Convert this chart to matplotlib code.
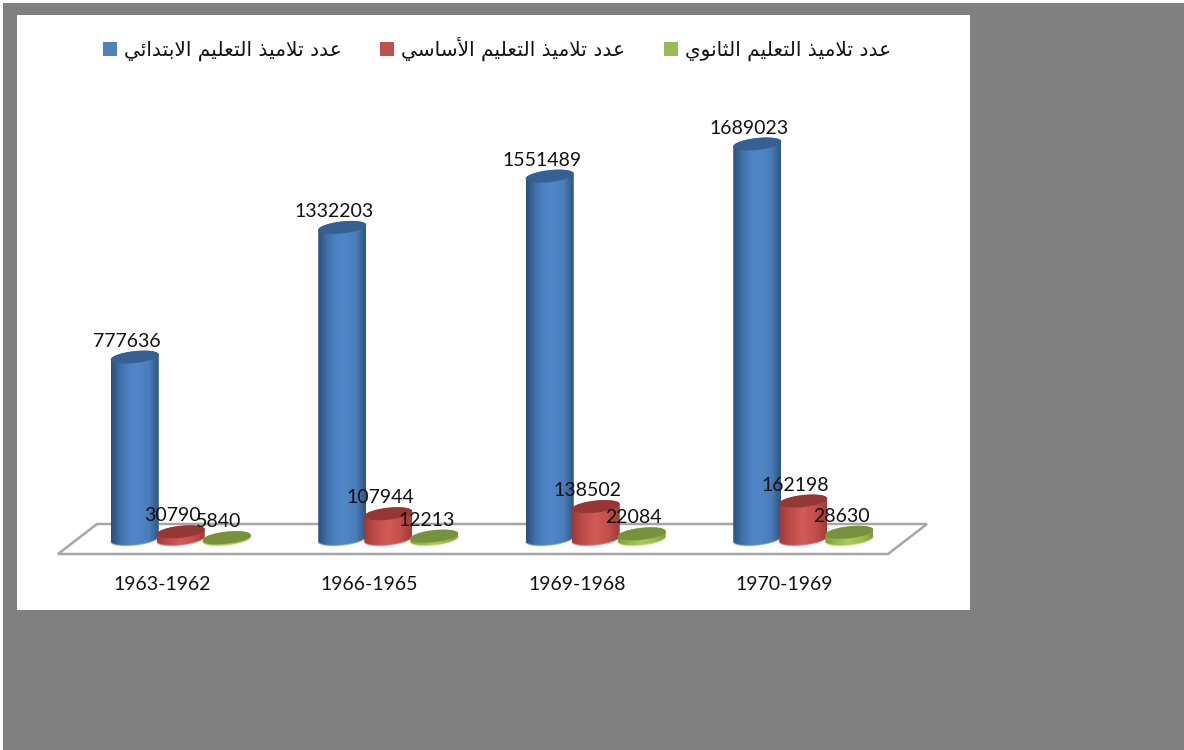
import numpy as np
import matplotlib
matplotlib.use("Agg")
import matplotlib.pyplot as plt
from matplotlib.colors import LinearSegmentedColormap
from matplotlib.patches import Polygon, Rectangle, Patch

categories = ["1963-1962", "1966-1965", "1969-1968", "1970-1969"]
primary = [777636, 1332203, 1551489, 1689023]
basic = [30790, 107944, 138502, 162198]
secondary = [5840, 12213, 22084, 28630]
series_names = ["عدد تلاميذ التعليم الابتدائي", "عدد تلاميذ التعليم الأساسي", "عدد تلاميذ التعليم الثانوي"]

W, H = 1184, 750
FORMS = {"ع": (0xFEC9, 4), "د": (0xFEA9, 2), "ت": (0xFE95, 4), "ل": (0xFEDD, 4), "ا": (0xFE8D, 2),
         "م": (0xFEE1, 4), "ي": (0xFEF1, 4), "ذ": (0xFEAB, 2), "ئ": (0xFE89, 4), "ن": (0xFEE5, 4),
         "ب": (0xFE8F, 4), "س": (0xFEB1, 4), "ث": (0xFE99, 4), "و": (0xFEED, 2), "أ": (0xFE83, 2)}
LIGS = {"ا": 0xFEFB, "أ": 0xFEF7}


def shape(text):
    # matplotlib has no Arabic shaping: pick presentation forms, then lay out right to left
    out = []
    for word in text.split(" "):
        glyphs = []
        i = 0
        joined = False
        while i < len(word):
            c = word[i]
            nxt = word[i + 1] if i + 1 < len(word) else None
            if c == "ل" and nxt in LIGS:
                glyphs.append(chr(LIGS[nxt] + (1 if joined else 0)))
                joined = False
                i += 2
                continue
            base, n = FORMS[c]
            joins_next = n == 4 and nxt is not None
            idx = (1 if joined else 0) if not joins_next else (3 if joined else 2)
            glyphs.append(chr(base + idx))
            joined = joins_next
            i += 1
        out.append("".join(reversed(glyphs)))
    return " ".join(reversed(out))


fig = plt.figure(figsize=(W / 100, H / 100), dpi=100, facecolor="white")


def px_rect(x0, y0, x1, y1):
    return [x0 / W, 1 - y1 / H, (x1 - x0) / W, (y1 - y0) / H]


l, b, w, h = px_rect(3, 3, W, H)
fig.patches.append(Rectangle((l, b), w, h, transform=fig.transFigure, fc="#808080", ec="none", zorder=-3))
l, b, w, h = px_rect(17, 15, 970, 610)
fig.patches.append(Rectangle((l, b), w, h, transform=fig.transFigure, fc="white", ec="none", zorder=-2))

AX_L, AX_R, AX_T, AX_B = 58, 888, 100, 554
ax = fig.add_axes(px_rect(AX_L, AX_T, AX_R, AX_B))
ax.patch.set_visible(False)
PX_X = 4.0 / (AX_R - AX_L)
PX_Y = max(primary) / 395.0
BASE_PX = 15
for s in ax.spines.values():
    s.set_visible(False)
ax.yaxis.set_visible(False)
ax.set_xticks(range(len(categories)))
ax.set_xticklabels(categories, family="Lato", fontsize=14, color="#111111")
ax.tick_params(axis="x", length=0, pad=15.5)

fx, fy = 39 / (AX_R - AX_L), 30 / (AX_B - AX_T)
ax.add_patch(Polygon([(0, 0), (1, 0), (1 + fx, fy), (fx, fy)], closed=True, transform=ax.transAxes,
                     fc="white", ec="#a6a6a6", lw=1.8, clip_on=False, zorder=1))

RX, RY, TILT = 24, 6, 2.5
t = np.linspace(0, 2 * np.pi, 121)


def ell(xc, yc, tt):
    xs = xc + RX * np.cos(tt) * PX_X
    ys = yc + (RY * np.sin(tt) + TILT * np.cos(tt)) * PX_Y
    return np.column_stack([xs, ys])


def cylinder(xc, value, ramp, top_col, rim_col, z):
    low = np.linspace(np.pi, 2 * np.pi, 61)
    high = np.linspace(0, np.pi, 61)
    outline = np.vstack([ell(xc, 0, low), ell(xc, value, high)])
    poly = Polygon(outline, closed=True, fc="none", ec="none", zorder=z)
    ax.add_patch(poly)
    cmap = LinearSegmentedColormap.from_list("c", ramp)
    grad = np.linspace(0, 1, 128)[None, :]
    y0, y1 = -12 * PX_Y, value + 12 * PX_Y
    im = ax.imshow(grad, cmap=cmap, extent=[xc - RX * PX_X, xc + RX * PX_X, y0, y1], aspect="auto",
                   zorder=z, interpolation="bilinear")
    im.set_clip_path(poly)
    ax.add_patch(Polygon(ell(xc, 0, low), closed=False, fc="none", ec=rim_col, lw=1.0, zorder=z + 0.1, alpha=0.6))
    ax.add_patch(Polygon(ell(xc, value, t), closed=True, fc=top_col, ec="none", zorder=z + 0.2))


series = [
    (primary, -27, ["#2c5078", "#4171ab", "#4f85c6", "#4f85c6", "#4a7cb8", "#2f5580"], "#376092", "#6b9bd6"),
    (basic, 19, ["#9c3a37", "#c04d4a", "#d25a57", "#c54f4c", "#9f3b38"], "#953735", "#e07a77"),
    (secondary, 65, ["#7f9c3e", "#98b94c", "#a9cc58", "#9dbd4f", "#7f9c3e"], "#76923c", "#bbd873"),
]
for k, (values, off, ramp, top, rim) in enumerate(series):
    for i, v in enumerate(values):
        xc = i + off * PX_X
        cylinder(xc, v, ramp, top, rim, 3 + k + i * 3)
        ax.annotate(str(v), (xc, v), xytext=(-8 * 0.72, 16 * 0.72), textcoords="offset points", ha="center", va="center",
                    family="Lato", fontsize=14, color="#111111", zorder=30, annotation_clip=False)
ax.set_xlim(-0.5, 3.5)
ax.set_ylim(-BASE_PX * PX_Y, (AX_B - AX_T - BASE_PX) * PX_Y)

cols = ["#4f81bd", "#c0504d", "#9bbb59"]
handles = [Patch(fc=c, ec="none") for c in cols]
fig.legend(handles, [shape(s) for s in series_names], ncol=3, frameon=False, loc="center",
           bbox_to_anchor=(497 / W, 1 - 49 / H), prop={"family": "DejaVu Sans", "size": 14.5},
           handlelength=0.7, handleheight=0.7, handletextpad=0.35, columnspacing=1.9, labelcolor="#111111")
fig.savefig("out.png", dpi=100, facecolor=fig.get_facecolor())
